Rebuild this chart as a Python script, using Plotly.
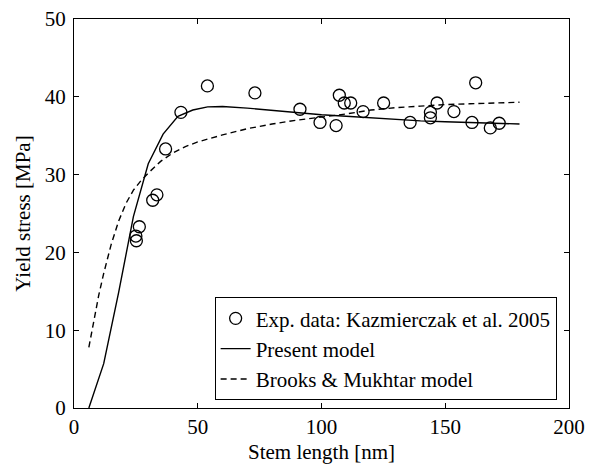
import plotly.graph_objects as go

# Experimental data (Kazmierczak et al. 2005)
exp_x = [25.2, 25.0, 26.4, 31.8, 33.5, 37.0, 43.2, 53.9, 73.1, 91.3, 99.4, 105.9, 107.2,
         109.2, 111.8, 116.8, 125.1, 135.8, 144.0, 144.0, 146.7, 153.5, 160.8, 162.3, 168.2, 171.8]
exp_y = [21.5, 22.1, 23.3, 26.7, 27.4, 33.3, 38.0, 41.4, 40.5, 38.4, 36.7, 36.3, 40.2,
         39.2, 39.2, 38.1, 39.2, 36.7, 38.0, 37.3, 39.2, 38.1, 36.7, 41.8, 36.0, 36.6]

# Present model
pm_x = [6, 12, 18, 24, 30, 36, 42, 48, 54, 60, 70, 80, 90, 100, 110, 120, 130, 140, 150, 160, 170, 180]
pm_y = [0.0, 5.7, 14.8, 24.6, 31.4, 35.2, 37.5, 38.3, 38.7, 38.75, 38.55, 38.25, 38.0, 37.7,
        37.5, 37.3, 37.1, 36.9, 36.8, 36.7, 36.6, 36.5]

# Brooks & Mukhtar model
bm_x = [6, 8, 10, 12, 15, 18, 21, 24, 27, 30, 35, 40, 45, 50, 55, 60, 70, 80, 90, 100,
        110, 120, 130, 140, 150, 160, 170, 180]
bm_y = [7.8, 11.3, 14.5, 17.3, 21.0, 24.0, 26.3, 28.0, 29.2, 30.2, 31.7, 32.8, 33.6, 34.2,
        34.7, 35.1, 35.9, 36.5, 37.0, 37.4, 37.8, 38.3, 38.6, 38.8, 39.0, 39.1, 39.2, 39.3]

x_ticks = [0, 50, 100, 150, 200]
y_ticks = [0, 10, 20, 30, 40, 50]

FONT = "Liberation Serif, Times New Roman, serif"

fig = go.Figure()
fig.add_trace(go.Scatter(
    x=exp_x, y=exp_y, mode="markers", name="Exp. data: Kazmierczak et al. 2005",
    marker=dict(symbol="circle-open", size=12, color="black", line=dict(width=1.3, color="black")),
))
fig.add_trace(go.Scatter(
    x=pm_x, y=pm_y, mode="lines", name="Present model",
    line=dict(color="black", width=1.4),
))
fig.add_trace(go.Scatter(
    x=bm_x, y=bm_y, mode="lines", name="Brooks & Mukhtar model",
    line=dict(color="black", width=1.4, dash="6px,4px"),
))

axis_common = dict(
    showgrid=False, zeroline=False, showline=True, linecolor="black", linewidth=1,
    mirror="ticks", ticks="inside", ticklen=5, tickwidth=1, tickcolor="black",
    tickfont=dict(family=FONT, size=21, color="black"), automargin=False,
    ticklabeloverflow="allow",
)

fig.update_layout(
    width=586, height=456,
    margin=dict(l=66, r=25, t=11, b=56),
    paper_bgcolor="white", plot_bgcolor="white",
    font=dict(family=FONT, size=21, color="black"),
    xaxis=dict(range=[0, 200], tickvals=x_ticks, ticktext=[str(v) for v in x_ticks],
               title=dict(text="Stem length [nm]", font=dict(family=FONT, size=21), standoff=6),
               **axis_common),
    yaxis=dict(range=[0, 50], tickvals=y_ticks, ticktext=[str(v) for v in y_ticks],
               ticklabelstandoff=3,
               title=dict(text="Yield stress [MPa]", font=dict(family=FONT, size=21), standoff=8),
               **axis_common),
    legend=dict(
        x=0.975, y=0.02, xanchor="right", yanchor="bottom",
        bgcolor="white", bordercolor="black", borderwidth=1,
        font=dict(family=FONT, size=21, color="black"),
        tracegroupgap=0, itemwidth=30,
    ),
    showlegend=True,
)

fig.write_html("out.html")
